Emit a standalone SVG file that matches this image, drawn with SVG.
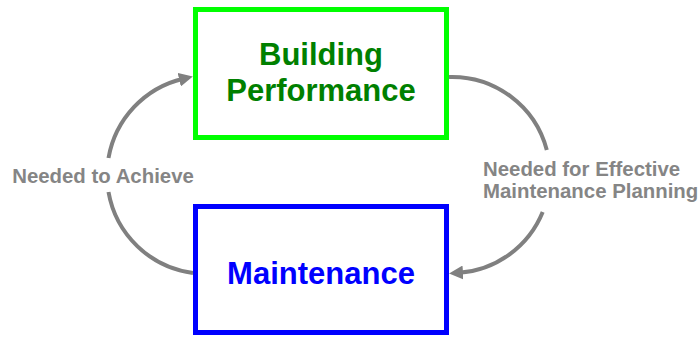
<svg xmlns="http://www.w3.org/2000/svg" width="698" height="337" viewBox="0 0 698 337">
  <style>
    .box { fill: #ffffff; stroke-width: 5; }
    .title { font-family: "Liberation Sans", Arial, sans-serif; font-weight: bold; font-size: 31px; text-anchor: middle; }
    .label { font-family: "Liberation Sans", Arial, sans-serif; font-weight: bold; font-size: 20.4px; fill: #858585; }
    .link { fill: none; stroke: #808080; stroke-width: 4; }
  </style>
  <defs>
    <marker id="arrow" markerUnits="userSpaceOnUse" markerWidth="16" markerHeight="14" refX="4" refY="7" orient="auto">
      <path d="M0,0 L14,7 L0,14 z" fill="#808080"/>
    </marker>
  </defs>
  <rect width="698" height="337" fill="#ffffff"/>

  <g id="connectors">
    <!-- Maintenance -> Building Performance (left loop, split around its label) -->
    <path class="link" d="M193,273 A99,99 0 0 1 108.5,192"/>
    <path class="link" d="M108.5,158 A99,99 0 0 1 183.1,78.7" marker-end="url(#arrow)"/>
    <!-- Building Performance -> Maintenance (right loop, split around its label) -->
    <path class="link" d="M449,77 A98,98 0 0 1 546.8,150"/>
    <path class="link" d="M542.7,212 A98,98 0 0 1 459,272.8" marker-end="url(#arrow)"/>
    <text class="label" x="103" y="183" text-anchor="middle">Needed to Achieve</text>
    <text class="label" x="483" y="176">Needed for Effective</text>
    <text class="label" x="483" y="198">Maintenance Planning</text>
  </g>

  <g id="building-performance">
    <rect class="box" x="195.5" y="9.5" width="251" height="128" stroke="#00ff00"/>
    <text class="title" x="321" y="64.5" fill="#008000">Building</text>
    <text class="title" x="321" y="100.5" fill="#008000">Performance</text>
  </g>

  <g id="maintenance">
    <rect class="box" x="195.5" y="206.5" width="251" height="126" stroke="#0000ff"/>
    <text class="title" x="321" y="284" fill="#0000ff">Maintenance</text>
  </g>
</svg>
